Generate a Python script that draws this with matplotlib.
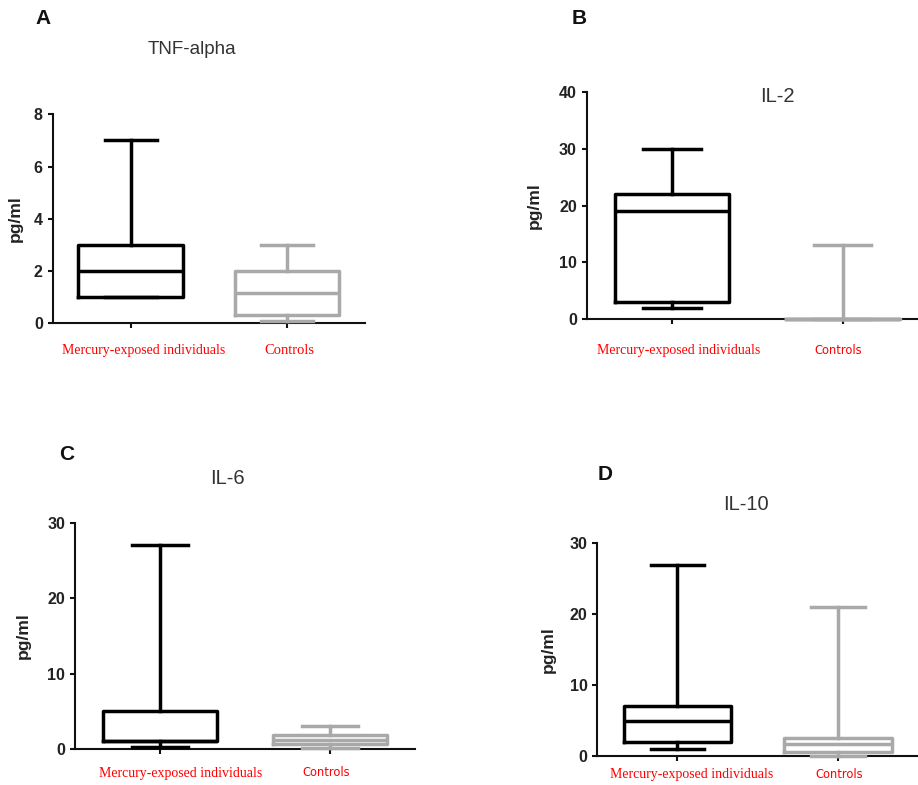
import matplotlib
matplotlib.use('Agg')
import matplotlib.pyplot as plt
import matplotlib.transforms as mtransforms

# 그룹 이름
groups = ['Mercury-exposed individuals', 'Controls']

# 박스플롯 값: [whislo, q1, med, q3, whishi]
tnf_mercury = [1, 1, 2, 3, 7]
tnf_controls = [0.1, 0.3, 1.15, 2, 3]
il2_mercury = [2, 3, 19, 22, 30]
il2_controls = [0, 0, 0, 0, 13]
il6_mercury = [0.3, 1, 1, 5, 27]
il6_controls = [0.1, 0.65, 1.2, 1.85, 3]
il10_mercury = [1, 2, 5, 7, 27]
il10_controls = [0, 0.6, 1.65, 2.5, 21]

titles = ['TNF-alpha', 'IL-2', 'IL-6', 'IL-10']
letters = ['A', 'B', 'C', 'D']
y_max = [8, 40, 30, 30]
y_step = [2, 10, 10, 10]

W, H = 918, 785
fig = plt.figure(figsize=(W / 100, H / 100), dpi=100)


def px(x, y):
    return x / W, 1 - y / H


def make_stats(vals):
    lo, q1, med, q3, hi = vals
    return dict(whislo=lo, q1=q1, med=med, q3=q3, whishi=hi, fliers=[])


def draw_panel(rect, xlim, data, ymax, ystep, label_pad, label_dx, serif_ctrl):
    ax = fig.add_axes(rect)
    colors = ['black', '#a9a9a9']
    for i, (vals, c) in enumerate(zip(data, colors)):
        art = ax.bxp([make_stats(vals)], positions=[i + 1], widths=0.67,
                     showfliers=False, manage_ticks=False,
                     boxprops=dict(color=c, linewidth=2.5),
                     medianprops=dict(color=c, linewidth=2.5),
                     whiskerprops=dict(color=c, linewidth=2.5),
                     capprops=dict(color=c, linewidth=2.5))
        for k in art:
            for a in art[k]:
                a.set_clip_on(False)
                a.set_zorder(3)
    ax.set_xlim(*xlim)
    ax.set_ylim(0, ymax)
    ax.set_yticks(range(0, ymax + 1, ystep))
    ax.set_xticks([1, 2])
    ax.set_xticklabels(groups)
    for s in ['top', 'right']:
        ax.spines[s].set_visible(False)
    for s in ['left', 'bottom']:
        ax.spines[s].set_linewidth(1.5)
        ax.spines[s].set_color('#111111')
    ax.tick_params(axis='both', direction='out', length=3.6, width=1.5,
                   color='#111111')
    ax.tick_params(axis='x', pad=label_pad)
    for t in ax.get_yticklabels():
        t.set_fontfamily('Liberation Sans')
        t.set_fontweight('bold')
        t.set_fontsize(11.5)
        t.set_color('#222222')
    xl = ax.get_xticklabels()
    for j, t in enumerate(xl):
        t.set_color('red')
        if j == 0 or serif_ctrl:
            t.set_fontfamily('Liberation Serif')
            t.set_fontsize(10 if j == 0 else 10.5)
        else:
            t.set_fontfamily('DejaVu Sans')
            t.set_fontsize(8.3)
        off = mtransforms.ScaledTranslation(label_dx[j] / 100, 0,
                                            fig.dpi_scale_trans)
        t.set_transform(t.get_transform() + off)
    ax.set_ylabel('pg/ml', fontfamily='Liberation Sans', fontweight='bold',
                  fontsize=12.5, color='#222222')
    return ax


axA = draw_panel([52.7 / W, 1 - 323.3 / H, 312.3 / W, 209 / H], (0.5, 2.5),
                 [tnf_mercury, tnf_controls], y_max[0], y_step[0],
                 11, [13, 2], True)
axB = draw_panel([586.7 / W, 1 - 319.3 / H, 331.3 / W, 227.6 / H], (0.5, 2.44),
                 [il2_mercury, il2_controls], y_max[1], y_step[1],
                 14, [7, -5], False)
axC = draw_panel([75 / W, 1 - 749 / H, 340 / W, 226.3 / H], (0.5, 2.5),
                 [il6_mercury, il6_controls], y_max[2], y_step[2],
                 9, [21, -4], False)
axD = draw_panel([597.3 / W, 1 - 756 / H, 320.7 / W, 212.7 / H], (0.5, 2.5),
                 [il10_mercury, il10_controls], y_max[3], y_step[3],
                 5, [14, 1], False)

axA.yaxis.labelpad = 8
axB.yaxis.labelpad = 12
axC.yaxis.labelpad = 12
axD.yaxis.labelpad = 10

# 제목 및 패널 문자
title_pos = [(192, 50), (777, 96), (227, 478), (746, 504)]
title_size = [13.5, 14.5, 14.5, 14.5]
letter_pos = [(43, 18), (579, 18), (67, 455), (605, 474)]
for t, (x, y), fs in zip(titles, title_pos, title_size):
    fig.text(*px(x, y), t, ha='center', va='center', fontsize=fs,
             fontfamily='Liberation Sans', color='#333333')
for l, (x, y) in zip(letters, letter_pos):
    fig.text(*px(x, y), l, ha='center', va='center', fontsize=15,
             fontweight='bold', fontfamily='Liberation Sans', color='#111111')

fig.savefig('out.png', dpi=100)
